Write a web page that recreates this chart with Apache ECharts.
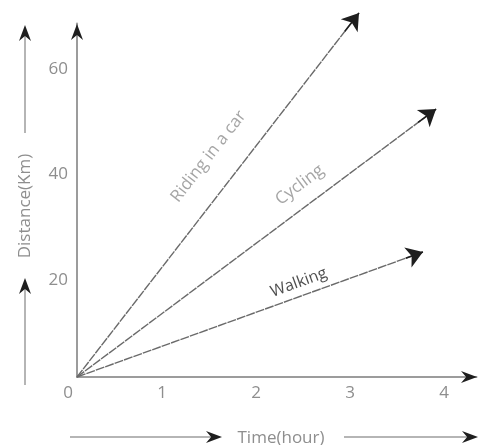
<!DOCTYPE html>
<html><head><meta charset="utf-8">
<script src="https://cdn.jsdelivr.net/npm/echarts@6/dist/echarts.min.js"></script>
<style>html,body{margin:0;padding:0;background:#fff}#c{width:480px;height:445px}</style>
</head><body><div id="c"></div>
<script>
const seriesNames = ['Riding in a car', 'Cycling', 'Walking'];
const endTimes = [3.0, 3.82, 3.68];
const endDistances = [69.0, 50.8, 23.7];
const labelTimes = [1.4, 2.37, 2.36];
const labelDistances = [41.8, 36.4, 17.9];
const labelAngles = [52, 37, 20];
const xTicks = [0, 1, 2, 3, 4];
const yTicks = [20, 40, 60];
const xAxisTitle = 'Time(hour)';
const yAxisTitle = 'Distance(Km)';

const GRAY = '#8e8e8e';
const LINE = '#9c9c9c';
const DARK = '#1e1e1e';
const FONT = '"Open Sans", "Noto Sans", sans-serif';

function arrowHead(tx, ty, angDeg, len, half) {
  const a = angDeg * Math.PI / 180;
  const dx = Math.cos(a), dy = -Math.sin(a);
  const px = Math.sin(a), py = Math.cos(a);
  const local = [[0, 0], [-len, -half], [-len * 0.68, 0], [-len, half]];
  return {
    type: 'polygon',
    shape: { points: local.map(p => [tx + p[0] * dx + p[1] * px, ty + p[0] * dy + p[1] * py]) },
    style: { fill: DARK },
    z: 100
  };
}
function seg(x1, y1, x2, y2, w) {
  return { type: 'line', shape: { x1, y1, x2, y2 }, style: { stroke: LINE, lineWidth: w || 1.5 }, z: 90 };
}

const chart = echarts.init(document.getElementById('c'), null, { renderer: 'canvas' });

const lineData = seriesNames.map((n, i) => ({ name: n, coords: [[0, 0], [endTimes[i], endDistances[i]]] }));
const arrowData = seriesNames.map((n, i) => ({
  name: n,
  coords: [[endTimes[i] * 0.95, endDistances[i] * 0.95], [endTimes[i], endDistances[i]]]
}));
const labelData = seriesNames.map((n, i) => ({
  name: n,
  value: [labelTimes[i], labelDistances[i]],
  label: {
    rotate: labelAngles[i],
    color: i === 2 ? DARK : GRAY,
    fontSize: i === 2 ? 16 : 17
  }
}));

chart.setOption({
  animation: false,
  backgroundColor: '#fff',
  grid: { left: 77, top: 23.6, right: 3.5, bottom: 68, containLabel: false },
  xAxis: {
    type: 'value', min: 0, max: 4.25, interval: 1,
    axisLine: { show: true, lineStyle: { color: LINE, width: 2 } },
    axisTick: { show: false },
    splitLine: { show: false },
    axisLabel: {
      color: GRAY, fontSize: 17, fontFamily: FONT,
      margin: 8, padding: [0, 18, 0, 0],
      formatter: v => xTicks.includes(v) ? String(v) : ''
    }
  },
  yAxis: {
    type: 'value', min: 0, max: 67, interval: 20,
    axisLine: { show: true, lineStyle: { color: LINE, width: 2 } },
    axisTick: { show: false },
    splitLine: { show: false },
    axisLabel: {
      color: GRAY, fontSize: 17, fontFamily: FONT,
      margin: 9, verticalAlign: 'top',
      formatter: v => yTicks.includes(v) ? String(v) : ''
    }
  },
  series: [
    {
      type: 'lines', coordinateSystem: 'cartesian2d', clip: false, polyline: false,
      symbol: ['none', 'none'],
      lineStyle: { color: '#6a6a6a', width: 1.4, opacity: 1, type: [9, 1] },
      data: lineData, z: 3
    },
    {
      type: 'lines', coordinateSystem: 'cartesian2d', clip: false, polyline: false,
      symbol: ['none', 'arrow'], symbolSize: 16,
      lineStyle: { color: DARK, width: 1.5, opacity: 1 },
      data: arrowData, z: 4
    },
    {
      type: 'scatter', clip: false, symbolSize: 2, silent: true,
      itemStyle: { color: 'rgba(0,0,0,0)' },
      label: { show: true, position: 'inside', fontFamily: FONT, formatter: p => p.name },
      labelLayout: { hideOverlap: false },
      data: labelData, z: 5
    }
  ],
  graphic: [
    seg(25, 133, 25, 32), arrowHead(25, 25, 90, 16, 6),
    seg(25, 385, 25, 285), arrowHead(25, 278, 90, 16, 6),
    seg(70, 437, 215, 437), arrowHead(222, 437, 0, 16, 6),
    seg(344, 437, 471, 437), arrowHead(478, 437, 0, 16, 6),
    arrowHead(77, 24, 90, 16, 6),
    arrowHead(477, 377, 0, 16, 6),
    {
      type: 'text', x: 25, y: 206, rotation: Math.PI / 2, z: 100,
      style: { text: yAxisTitle, fill: GRAY, fontSize: 17, fontFamily: FONT, align: 'center', verticalAlign: 'middle' }
    },
    {
      type: 'text', x: 281, y: 438, z: 100,
      style: { text: xAxisTitle, fill: GRAY, fontSize: 17, fontFamily: FONT, align: 'center', verticalAlign: 'middle' }
    }
  ]
});
</script>
</body></html>
